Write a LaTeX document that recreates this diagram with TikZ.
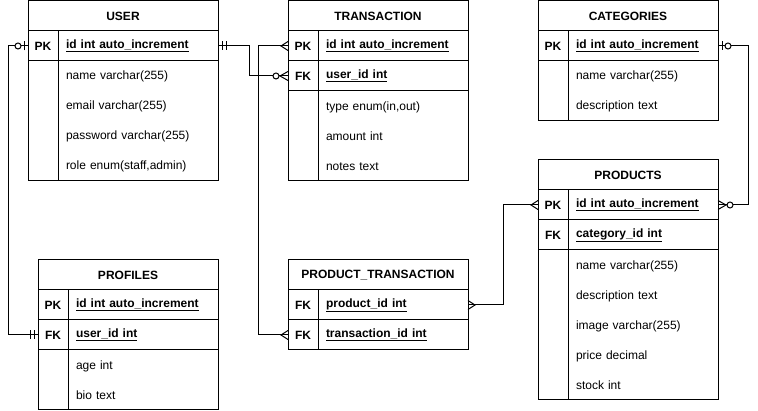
\documentclass[tikz,border=0pt]{standalone}
\usepackage{fontspec}
\setmainfont{Liberation Sans}
\usetikzlibrary{positioning, decorations.markings}
% ER end marks, drawn with x pointing into the table
\newcommand\erbars{\draw[link] (-4,-4.5) -- (-4,4.5) (-8,-4.5) -- (-8,4.5);}
\newcommand\erzeroone{\draw[link] (-4,-4.5) -- (-4,4.5); \draw[link, fill=white] (-10,0) circle (3pt);}
\newcommand\ercrow{\draw[link] (0,-4.5) -- (-7,0) -- (0,4.5);}
\newcommand\erzeromany{\draw[link] (0,-4.5) -- (-8,0) -- (0,4.5); \draw[link, fill=white] (-12,0) circle (3pt);}
\tikzset{
  cell/.style={draw=black, line width=1pt, fill=white, text=black, inner sep=0pt,
    outer sep=0pt, minimum height=30pt, font=\fontsize{12}{14}\selectfont},
  tblhead/.style={cell, anchor=north west, font=\fontsize{12}{14}\selectfont\bfseries},
  keycol/.style={cell, minimum width=30pt, font=\fontsize{12}{14}\selectfont\bfseries},
  keyrow/.style={cell, align=left, inner xsep=8pt, font=\fontsize{12}{14}\selectfont\bfseries},
  fields/.style={cell, align=left, inner xsep=8pt, font=\fontsize{12}{30}\selectfont},
  link/.style={draw=black, line width=1pt},
  startmark/.style={postaction={decorate, decoration={markings,
    mark=at position 0 with {\begin{scope}[xscale=-1]#1\end{scope}}}}},
  endmark/.style={postaction={decorate, decoration={markings,
    mark=at position 1 with {#1}}}},
}
\begin{document}
\begin{tikzpicture}[x=1pt, y=-1pt]
  \path[use as bounding box, fill=white] (0,0) rectangle (758,411);
  % USER
  \node[tblhead, minimum width=190pt] (user) at (28,1) {USER};
  \node[keycol, anchor=north west] (userpk) at (user.south west) {PK};
  \node[keyrow, text width=144pt, right=0pt of userpk] (userid) {\underline{id int auto\_increment}};
  \node[keycol, minimum height=120pt, below=0pt of userpk] (userkc) {};
  \node[fields, text width=144pt, minimum height=120pt, right=0pt of userkc] (userf)
    {name varchar(255)\\email varchar(255)\\password varchar(255)\\role enum(staff,admin)};
  % TRANSACTION
  \node[tblhead, minimum width=180pt] (trans) at (288,1) {TRANSACTION};
  \node[keycol, anchor=north west] (transpk) at (trans.south west) {PK};
  \node[keyrow, text width=134pt, right=0pt of transpk] (transid) {\underline{id int auto\_increment}};
  \node[keycol, below=0pt of transpk] (transfk) {FK};
  \node[keyrow, text width=134pt, right=0pt of transfk] (transuid) {\underline{user\_id int}};
  \node[keycol, minimum height=90pt, below=0pt of transfk] (transkc) {};
  \node[fields, text width=134pt, minimum height=90pt, right=0pt of transkc] (transf)
    {type enum(in,out)\\amount int\\notes text};
  % CATEGORIES
  \node[tblhead, minimum width=180pt] (cat) at (538,1) {CATEGORIES};
  \node[keycol, anchor=north west] (catpk) at (cat.south west) {PK};
  \node[keyrow, text width=134pt, right=0pt of catpk] (catid) {\underline{id int auto\_increment}};
  \node[keycol, minimum height=60pt, below=0pt of catpk] (catkc) {};
  \node[fields, text width=134pt, minimum height=60pt, right=0pt of catkc] (catf)
    {name varchar(255)\\description text};
  % PRODUCTS
  \node[tblhead, minimum width=180pt] (prod) at (538,160) {PRODUCTS};
  \node[keycol, anchor=north west] (prodpk) at (prod.south west) {PK};
  \node[keyrow, text width=134pt, right=0pt of prodpk] (prodid) {\underline{id int auto\_increment}};
  \node[keycol, below=0pt of prodpk] (prodfk) {FK};
  \node[keyrow, text width=134pt, right=0pt of prodfk] (prodcid) {\underline{category\_id int}};
  \node[keycol, minimum height=150pt, below=0pt of prodfk] (prodkc) {};
  \node[fields, text width=134pt, minimum height=150pt, right=0pt of prodkc] (prodf)
    {name varchar(255)\\description text\\image varchar(255)\\price decimal\\stock int};
  % PROFILES
  \node[tblhead, minimum width=180pt] (prof) at (38,260) {PROFILES};
  \node[keycol, anchor=north west] (profpk) at (prof.south west) {PK};
  \node[keyrow, text width=134pt, right=0pt of profpk] (profid) {\underline{id int auto\_increment}};
  \node[keycol, below=0pt of profpk] (proffk) {FK};
  \node[keyrow, text width=134pt, right=0pt of proffk] (profuid) {\underline{user\_id int}};
  \node[keycol, minimum height=60pt, below=0pt of proffk] (profkc) {};
  \node[fields, text width=134pt, minimum height=60pt, right=0pt of profkc] (proff)
    {age int\\bio text};
  % PRODUCT_TRANSACTION
  \node[tblhead, minimum width=180pt] (pt) at (288,260) {PRODUCT\_TRANSACTION};
  \node[keycol, anchor=north west] (ptfka) at (pt.south west) {FK};
  \node[keyrow, text width=134pt, right=0pt of ptfka] (ptpid) {\underline{product\_id int}};
  \node[keycol, below=0pt of ptfka] (ptfkb) {FK};
  \node[keyrow, text width=134pt, right=0pt of ptfkb] (pttid) {\underline{transaction\_id int}};
  % relations
  \draw[link, startmark=\erbars, endmark=\erzeromany] (userid.east) -- ++(31,0) |- (transfk.west);
  \draw[link, startmark=\erzeroone, endmark=\erbars] (userpk.west) -- ++(-20,0) |- (proffk.west);
  \draw[link, startmark=\ercrow, endmark=\ercrow] (transpk.west) -- ++(-30,0) |- (ptfkb.west);
  \draw[link, startmark=\ercrow, endmark=\ercrow] (prodpk.west) -- ++(-35,0) |- (ptpid.east);
  \draw[link, startmark=\erzeroone, endmark=\erzeromany] (catid.east) -- ++(30,0) |- (prodid.east);
\end{tikzpicture}
\end{document}
